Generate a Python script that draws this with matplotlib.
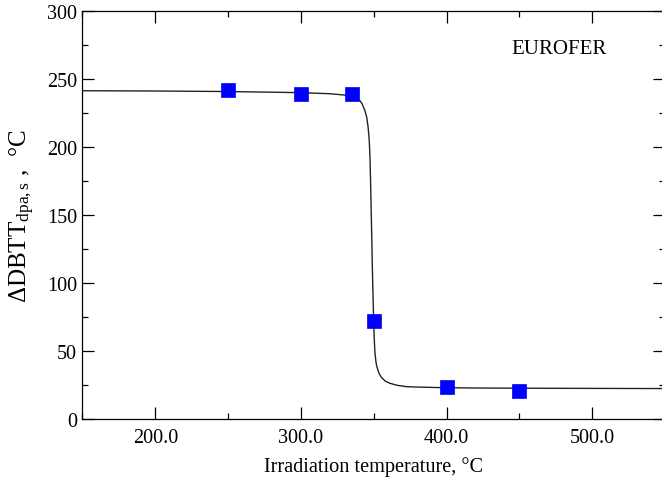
import matplotlib
matplotlib.use("Agg")
import matplotlib.pyplot as plt
from matplotlib.ticker import MultipleLocator, FormatStrFormatter

plt.rcParams['font.family'] = ['Liberation Serif', 'DejaVu Serif']
plt.rcParams['mathtext.fontset'] = 'custom'
plt.rcParams['mathtext.rm'] = 'Liberation Serif'
plt.rcParams['mathtext.it'] = 'Liberation Serif:italic'
plt.rcParams['mathtext.bf'] = 'Liberation Serif:bold'

# measured points
temp = [250, 300, 335, 350, 400, 450]
ddbtt = [242, 239, 239, 72, 24, 21]

# fitted curve
curve_x = [150, 200, 250, 300, 320, 330, 336, 340, 342, 343.9, 345.2, 346.2,
           346.9, 347.4, 347.8, 348.2, 348.6, 349.0, 349.4, 349.8, 350.3,
           350.8, 351.4, 352.0, 353.5, 355.4, 358.0, 361.1, 366.0, 372.5,
           380, 395.4, 420, 470, 550]
curve_y = [241.6, 241.4, 241.0, 240.2, 239.4, 238.4, 237.2, 235.0, 232.0,
           227.0, 222.0, 214.0, 205.0, 193.0, 175.0, 155.0, 135.0, 113.0,
           95.0, 78.0, 60.0, 49.0, 43.0, 39.2, 34.0, 30.6, 28.0, 26.5, 25.0,
           24.0, 23.7, 23.3, 23.0, 22.8, 22.6]

xticks = [200.0, 300.0, 400.0, 500.0]

fig = plt.figure(figsize=(6.62, 4.81), dpi=100)
ax = fig.add_axes([0.1246, 0.1262, 0.880, 0.8482])

ax.plot(curve_x, curve_y, color='#222222', lw=1.0, zorder=2)
ax.plot(temp, ddbtt, linestyle='none', marker='s', ms=10, color='#0000ff',
        mec='#0000ff', mew=0.5, zorder=3)

ax.set_xlim(150, 550)
ax.set_ylim(0, 300)
ax.set_xticks(xticks)
ax.xaxis.set_major_formatter(FormatStrFormatter('%.1f'))
ax.xaxis.set_minor_locator(MultipleLocator(50))
ax.yaxis.set_major_locator(MultipleLocator(50))
ax.yaxis.set_minor_locator(MultipleLocator(25))

ax.tick_params(which='both', direction='in', top=True, right=True, width=0.9,
               colors='black')
ax.tick_params(which='major', length=8.5, labelsize=14.5)
ax.tick_params(which='minor', length=4.2)
ax.tick_params(axis='x', pad=6)
ax.tick_params(axis='y', pad=4)
for s in ax.spines.values():
    s.set_linewidth(0.9)

ax.set_xlabel('Irradiation temperature, °C', fontsize=14.6, labelpad=7)
ax.set_ylabel('ΔDBTT$_{\\mathrm{dpa,s}}$ ,  °C', fontsize=18, labelpad=7)

ax.text(444.8, 269.6, 'EUROFER', fontsize=15, ha='left', va='baseline')

fig.savefig('out.png', dpi=100)
